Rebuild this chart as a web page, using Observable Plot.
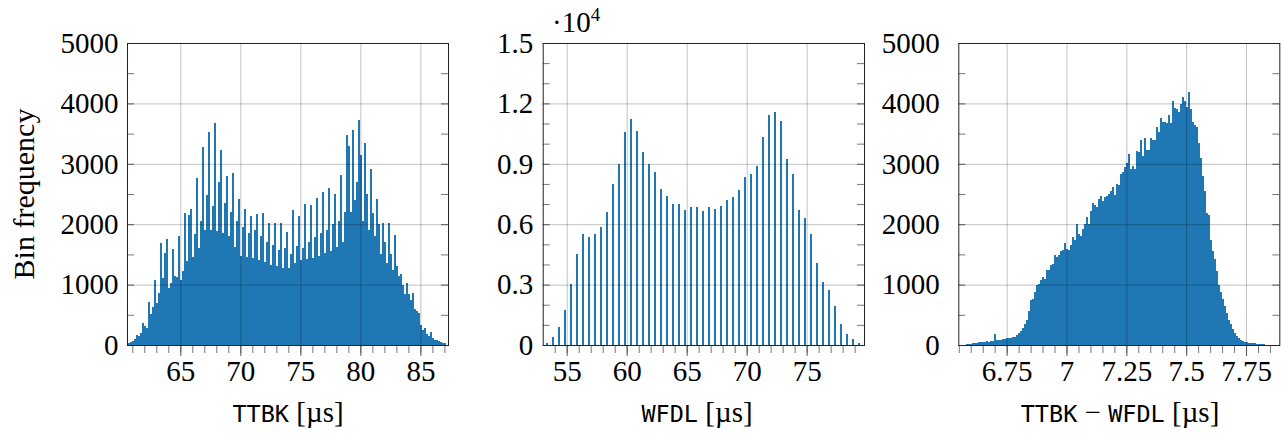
<!DOCTYPE html>
<html><head><meta charset="utf-8">
<script src="https://cdn.jsdelivr.net/npm/d3@7"></script>
<script src="https://cdn.jsdelivr.net/npm/@observablehq/plot@0.6"></script>
<style>
body{margin:0;background:#fff;}
#wrap{position:relative;width:1282px;height:436px;overflow:hidden;font-family:"Liberation Serif",serif;color:#000;}
.panel{position:absolute;top:0;}
.xl{position:absolute;top:398px;font-size:29px;line-height:28px;white-space:nowrap;transform:translateX(-50%);}
.mono{font-family:"DejaVu Sans Mono",monospace;font-size:23.5px;}
.yl{position:absolute;left:24px;top:194px;font-size:30px;line-height:28px;white-space:nowrap;transform:translate(-50%,-50%) rotate(-90deg);}
.exp{position:absolute;left:552px;top:8px;font-size:29px;line-height:28px;white-space:nowrap;}
.exp sup{font-size:19px;vertical-align:11px;line-height:0;}
</style></head><body><div id="wrap"></div>
<script>
// ---- Panel 1: TTBK histogram (bin width 1/6 µs) ----
const ttbkStart = 60.663;
const ttbkWidth = 1 / 6;
const ttbkCounts = [
  28, 44, 72, 94, 166, 149, 193,
  359, 315, 276, 717, 508, 624, 1076, 701, 855, 1683, 1104, 1518,
  1750, 938, 1021, 1584, 1142, 1120, 1805, 1076, 1231, 2180, 1396, 2150,
  2246, 1450, 1840, 2770, 1600, 2050, 3283, 1900, 2480, 3532, 1900, 2300,
  3670, 1880, 2700, 3228, 1850, 2350, 2798, 1800, 2200, 2842, 1620, 2050,
  2412, 1470, 1950, 2252, 1460, 1850, 2136, 1440, 1900, 2169, 1400, 1800,
  2180, 1380, 1700, 2025, 1330, 1650, 2025, 1300, 1580, 2025, 1280, 1600,
  1876, 1270, 1500, 2230, 1350, 1640, 2141, 1400, 1600, 2329, 1420, 1700,
  2318, 1440, 1780, 2428, 1480, 1850, 2539, 1520, 1900, 2594, 1560, 2000,
  2500, 1620, 2060, 2815, 1700, 2200, 3477, 3300, 2200, 3560, 2400, 2700,
  3725, 3150, 2050, 3339, 2500, 1900, 2908, 2180, 1800, 2412, 2000, 1500,
  2025, 1700, 1350, 2014, 1500, 1250, 1821, 1300, 1150, 1170, 1000, 850,
  1021, 850, 750, 866, 600, 560, 524, 330, 250, 281, 190, 150,
  210, 110, 80, 83, 72, 50,
  39, 25
];
// ---- Panel 2: WFDL histogram (quantised, one filled bin every 0.5 µs) ----
const wfdlStart = 53.28;
const wfdlStep = 0.5;
const wfdlWidth = 0.15;
const wfdlCounts = [
  116, 380, 893, 1753, 3027, 4499, 5524, 5342, 5524, 5839,
  6600, 7972, 9014, 10569, 11231, 10619, 9610, 9014, 8601, 7724,
  7393, 6996, 6996, 6699, 6864, 6831, 6649, 6831, 6749, 6881,
  7178, 7344, 7675, 8369, 8469, 8899, 10338, 11429, 11594, 11115,
  9262, 8485, 6699, 6285, 5491, 4052, 3126, 2713, 1952, 1042,
  546, 281, 116
];
// ---- Panel 3: TTBK − WFDL histogram (bin width 1/120 µs) ----
const diffStart = 6.548;
const diffWidth = 1 / 120;
const diffCounts = [
  0, 3, 5, 8, 10, 12, 15,
  28, 30, 33, 44, 44, 50, 55, 60, 55, 66,
  70, 190,
  80, 83, 90, 99, 100, 110, 115, 122, 127, 135, 160,
  193, 240, 275, 340, 414, 568, 745, 756, 883, 993, 1010, 1076, 1131, 1100,
  1242, 1250, 1325, 1335, 1490, 1450, 1490, 1562, 1580, 1694,
  1584, 1570, 1656, 1794, 1740, 1998, 1838, 1810, 1915, 2003, 2125, 2003,
  2224, 2357, 2318, 2290, 2412, 2473, 2380, 2445, 2470, 2500, 2555, 2610,
  2480, 2666, 2655, 2831, 2870, 2942, 3008, 3162, 2909, 2960, 2920, 3218,
  3190, 3394, 3129, 3422, 3229, 3229, 3422, 3394, 3400, 3615, 3532, 3753,
  3698, 3698, 3680, 3808, 3680, 4045,
  3918, 3900, 3863, 3990, 4101, 4040, 3935, 4194, 3900, 3698, 3643, 3615, 3339,
  3100, 2800, 2550, 2180, 2150, 1740, 1560, 1420, 1230, 1000, 870, 760, 640,
  525, 420, 340, 260, 200, 150, 120, 90, 70, 55, 45, 40, 33, 28, 25, 22, 18,
  15, 12, 10, 8, 6, 5, 3, 2, 1
];
// ---- ticks ----
const ttbkMajor = [65, 70, 75, 80, 85];
const ttbkMinor = d3.range(61, 88, 1);
const wfdlMajor = [55, 60, 65, 70, 75];
const wfdlMinor = d3.range(54, 80, 1);
const diffMajor = [6.75, 7, 7.25, 7.5, 7.75];
const diffMinor = d3.range(131, 158, 1).map(d => d * 0.05);
const countMajor = [0, 1000, 2000, 3000, 4000, 5000];
const countMinor = d3.range(500, 5000, 1000);
const wfdlYMajor = [0, 3000, 6000, 9000, 12000, 15000];
const wfdlYMinor = d3.range(0, 15001, 1000).filter(d => d % 3000 !== 0);

const bins = (start, width, counts) => counts.map((v, i) => ({x1: start + i * width, x2: start + (i + 1) * width, v}));
const spikes = (start, step, width, counts) => counts.map((v, i) => ({x1: start + i * step, x2: start + i * step + width, v}));

function panel({left, width, ml, mr, xDomain, yDomain, data, majorX, minorX, majorY, minorY, fmtX, fmtY, pad}) {
  const fw = width - ml - mr;
  const chart = Plot.plot({
    width, height: 436, marginLeft: ml, marginRight: mr, marginTop: 43, marginBottom: 91,
    x: {domain: xDomain}, y: {domain: yDomain},
    style: {fontFamily: "Liberation Serif", fontSize: "29px", color: "#000", background: "transparent", overflow: "visible"},
    marks: [
      Plot.rect(data, {x1: "x1", x2: "x2", y1: 0, y2: "v", fill: "#1f77b4", shapeRendering: "crispEdges"}),
      Plot.gridX(majorX, {stroke: "#000", strokeOpacity: 0.3, strokeWidth: 0.8}),
      Plot.gridY(majorY, {stroke: "#000", strokeOpacity: 0.3, strokeWidth: 0.8}),
      Plot.tickY(minorY, {insetRight: fw - 7, stroke: "#777"}),
      Plot.tickY(minorY, {insetLeft: fw - 7, stroke: "#777"}),
      Plot.tickY(majorY, {insetRight: fw - 7, stroke: "#555"}),
      Plot.tickY(majorY, {insetLeft: fw - 7, stroke: "#555"}),
      Plot.axisX(minorX, {tickSize: 8, tickFormat: () => "", stroke: "#777", label: null}),
      Plot.axisX(majorX, {tickSize: 11, tickPadding: 4, tickFormat: fmtX, stroke: "#555", label: null, fontSize: 29}),
      Plot.axisY(majorY, {tickSize: 0, tickPadding: pad, tickFormat: fmtY, label: null, fontSize: 29}),
      Plot.frame({stroke: "#222", strokeWidth: 1})
    ]
  });
  chart.classList.add("panel");
  chart.style.left = left + "px";
  document.getElementById("wrap").appendChild(chart);
}

const fmtNum = d => String(d);
panel({left: 0, width: 470, ml: 127, mr: 22, xDomain: [60.56, 87.3], yDomain: [0, 5000],
  data: bins(ttbkStart, ttbkWidth, ttbkCounts), majorX: ttbkMajor, minorX: ttbkMinor,
  majorY: countMajor, minorY: countMinor, fmtX: fmtNum, fmtY: fmtNum, pad: 9});
panel({left: 470, width: 415, ml: 72.7, mr: 21, xDomain: [53, 79.78], yDomain: [0, 15000],
  data: spikes(wfdlStart, wfdlStep, wfdlWidth, wfdlCounts), majorX: wfdlMajor, minorX: wfdlMinor,
  majorY: wfdlYMajor, minorY: wfdlYMinor, fmtX: fmtNum, fmtY: d => d === 0 ? "0" : (d / 10000).toFixed(1), pad: 10});
panel({left: 885, width: 397, ml: 73.3, mr: 2.7, xDomain: [6.548, 7.889], yDomain: [0, 5000],
  data: bins(diffStart, diffWidth, diffCounts), majorX: diffMajor, minorX: diffMinor,
  majorY: countMajor, minorY: countMinor, fmtX: fmtNum, fmtY: fmtNum, pad: 19});

const wrap = document.getElementById("wrap");
function addLabel(cls, html, left) {
  const d = document.createElement("div");
  d.className = cls; d.innerHTML = html;
  if (left != null) d.style.left = left + "px";
  wrap.appendChild(d);
}
addLabel("xl", '<span class="mono">TTBK</span> [µs]', 288);
addLabel("xl", '<span class="mono">WFDL</span> [µs]', 697);
addLabel("xl", '<span class="mono">TTBK</span> − <span class="mono">WFDL</span> [µs]', 1120);
addLabel("yl", "Bin frequency");
addLabel("exp", "·10<sup>4</sup>");
</script></body></html>
